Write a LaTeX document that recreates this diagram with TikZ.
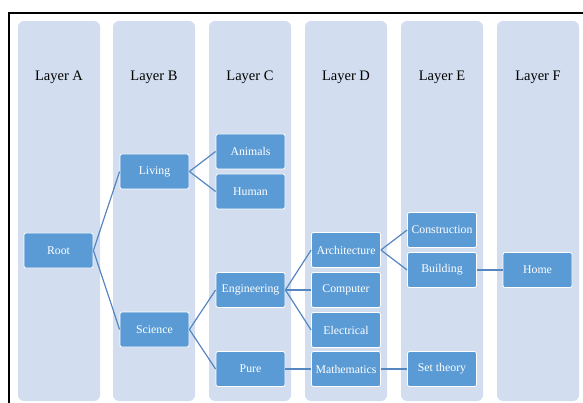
\documentclass[tikz,border=0pt]{standalone}
\usepackage{fontspec}
\setmainfont{Liberation Serif}
\definecolor{colbg}{HTML}{D2DEEF}
\definecolor{boxfill}{HTML}{5B9BD5}
\definecolor{linkc}{HTML}{5586C0}
\begin{document}
\begin{tikzpicture}[x=1pt,y=-1pt,
  column/.style={rectangle, fill=colbg, rounded corners=6pt, draw=none, minimum width=82pt, minimum height=380pt, inner sep=0pt},
  header/.style={font=\fontsize{14.5}{16}\selectfont, text=black, inner sep=0pt},
  item/.style={rectangle, fill=boxfill, draw=white, line width=0.8pt, rounded corners=2pt, minimum width=69pt, minimum height=35pt, inner sep=1pt, text=white, font=\fontsize{11.8}{13}\selectfont},
  link/.style={draw=linkc, line width=1.2pt}]
\useasboundingbox (0,0) rectangle (583,403);
\coordinate (f1) at (583,13);
\coordinate (f2) at (9,13);
\coordinate (f3) at (9,403);
\draw[line width=1.6pt, black] (f1) -- (f2) -- (f3);
% columns
\node[column] (cA) at (59,211) {};
\node[column] (cB) at (154,211) {};
\node[column] (cC) at (250,211) {};
\node[column] (cD) at (346,211) {};
\node[column] (cE) at (442,211) {};
\node[column] (cF) at (538,211) {};
\node[header] (hA) at (59,77) {Layer A};
\node[header] (hB) at (154,77) {Layer B};
\node[header] (hC) at (250,77) {Layer C};
\node[header] (hD) at (346,77) {Layer D};
\node[header] (hE) at (442,77) {Layer E};
\node[header] (hF) at (538,77) {Layer F};
% items
\node[item] (root) at (58.5,250.5) {Root};
\node[item] (living) at (154.5,171.5) {Living};
\node[item] (science) at (154.5,329.5) {Science};
\node[item] (animals) at (250.5,151.5) {Animals};
\node[item] (human) at (250.5,191.5) {Human};
\node[item] (eng) at (250.5,290) {Engineering};
\node[item] (pure) at (250.5,369) {Pure};
\node[item] (arch) at (346,250) {Architecture};
\node[item] (comp) at (346,290) {Computer};
\node[item] (elec) at (346,330) {Electrical};
\node[item] (math) at (346,369) {Mathematics};
\node[item] (constr) at (442,230) {Construction};
\node[item] (build) at (442,270) {Building};
\node[item] (set) at (442,369) {Set theory};
\node[item] (home) at (537.5,270) {Home};
% links
\draw[link] (root.east) -- (living.west);
\draw[link] (root.east) -- (science.west);
\draw[link] (living.east) -- (animals.west);
\draw[link] (living.east) -- (human.west);
\draw[link] (science.east) -- (eng.west);
\draw[link] (science.east) -- (pure.west);
\draw[link] (eng.east) -- (arch.west);
\draw[link] (eng.east) -- (comp.west);
\draw[link] (eng.east) -- (elec.west);
\draw[link] (pure.east) -- (math.west);
\draw[link] (arch.east) -- (constr.west);
\draw[link] (arch.east) -- (build.west);
\draw[link] (build.east) -- (home.west);
\draw[link] (math.east) -- (set.west);
\end{tikzpicture}
\end{document}
